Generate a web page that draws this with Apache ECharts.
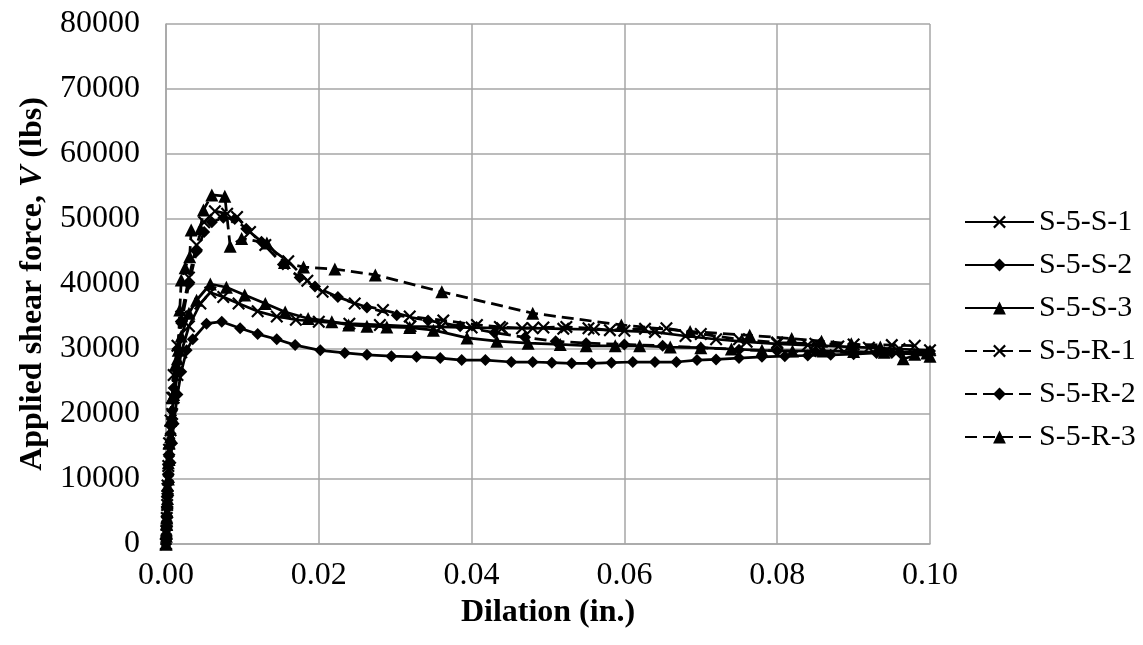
<!DOCTYPE html>
<html>
<head>
<meta charset="utf-8">
<script src="https://cdn.jsdelivr.net/npm/echarts@6/dist/echarts.min.js"></script>
<style>
  html, body { margin: 0; padding: 0; background: #fff; }
  #chart { width: 1143px; height: 645px; }
</style>
</head>
<body>
<div id="chart"></div>
<script>
// Dilation (in.) and applied shear force (lbs) for each specimen
const s1Dilation = [0, 0.00005, 0.0001, 0.00015, 0.0002, 0.0003, 0.0004, 0.0006, 0.0008, 0.001, 0.0015, 0.002, 0.003, 0.0045, 0.0058, 0.0075, 0.0095, 0.012, 0.0145, 0.017, 0.02, 0.024, 0.028, 0.032, 0.036, 0.04, 0.044, 0.048, 0.052, 0.056, 0.06, 0.064, 0.068, 0.072, 0.076, 0.08, 0.084, 0.088, 0.092, 0.096, 0.1];
const s1Force    = [0, 1500, 3500, 6000, 8500, 11500, 14500, 17500, 20000, 22500, 26000, 29500, 33500, 37000, 38700, 38000, 37000, 35800, 35000, 34500, 34200, 33900, 33700, 33500, 33400, 33300, 33200, 33200, 33100, 33000, 32800, 32600, 32000, 31500, 31100, 30800, 30600, 30400, 30200, 30000, 29800];

const s2Dilation = [0, 0.00005, 0.0001, 0.00015, 0.0002, 0.0003, 0.0004, 0.0006, 0.0008, 0.001, 0.0015, 0.002, 0.0027, 0.0035, 0.0053, 0.0073, 0.0097, 0.012, 0.0145, 0.0169, 0.0202, 0.0234, 0.0263, 0.0295, 0.0328, 0.0359, 0.0387, 0.0418, 0.0452, 0.048, 0.0505, 0.0531, 0.0557, 0.0583, 0.0611, 0.064, 0.0668, 0.0695, 0.072, 0.075, 0.078, 0.081, 0.084, 0.087, 0.09, 0.093, 0.096, 0.1];
const s2Force    = [0, 1000, 2500, 4000, 5500, 7500, 9500, 12500, 15500, 18500, 23000, 26500, 29800, 31500, 33900, 34200, 33200, 32300, 31500, 30600, 29800, 29400, 29100, 28900, 28800, 28600, 28300, 28300, 28000, 28000, 27900, 27800, 27800, 27900, 28000, 28000, 28000, 28300, 28400, 28600, 28800, 28900, 29000, 29100, 29200, 29400, 29500, 29700];

const s3Dilation = [0, 0.00005, 0.0001, 0.00015, 0.0002, 0.0003, 0.0004, 0.0006, 0.0008, 0.001, 0.0015, 0.002, 0.003, 0.004, 0.0058, 0.0079, 0.0103, 0.013, 0.0156, 0.0186, 0.0217, 0.0239, 0.0263, 0.0289, 0.0319, 0.035, 0.0394, 0.0433, 0.0474, 0.0516, 0.055, 0.0588, 0.062, 0.066, 0.07, 0.074, 0.078, 0.082, 0.086, 0.09, 0.094, 0.098, 0.1];
const s3Force    = [0, 1200, 3000, 5000, 7000, 10000, 13000, 16500, 19500, 23000, 28500, 32000, 35500, 37500, 40000, 39500, 38300, 37000, 35700, 34700, 34200, 33700, 33500, 33400, 33300, 32900, 31700, 31200, 30900, 30700, 30500, 30500, 30500, 30300, 30200, 30000, 29800, 29700, 29700, 29600, 29500, 29200, 28900];

const r1Dilation = [0, 0.00005, 0.0001, 0.00015, 0.0002, 0.0003, 0.0004, 0.0006, 0.0008, 0.001, 0.0015, 0.002, 0.003, 0.004, 0.005, 0.0064, 0.008, 0.0093, 0.011, 0.013, 0.016, 0.0185, 0.0205, 0.0247, 0.0284, 0.0319, 0.0363, 0.0407, 0.0437, 0.0466, 0.0494, 0.0524, 0.0553, 0.0581, 0.0627, 0.0655, 0.07, 0.075, 0.08, 0.085, 0.09, 0.095, 0.098];
const r1Force    = [0, 2000, 4000, 6500, 9000, 12000, 15500, 19000, 22500, 26000, 30500, 35000, 41000, 46000, 49500, 51200, 50800, 50300, 48000, 46000, 43500, 40500, 38800, 37000, 36000, 35000, 34400, 33700, 33400, 33200, 33300, 33400, 33200, 32900, 33100, 33200, 32300, 31500, 31000, 30800, 30700, 30600, 30500];

const r2Dilation = [0, 0.00005, 0.0001, 0.00015, 0.0002, 0.0003, 0.0004, 0.0006, 0.0008, 0.001, 0.0015, 0.002, 0.003, 0.004, 0.005, 0.006, 0.0075, 0.009, 0.0105, 0.0125, 0.0153, 0.0175, 0.0195, 0.0225, 0.0263, 0.0302, 0.0343, 0.0385, 0.043, 0.047, 0.051, 0.055, 0.06, 0.065, 0.07, 0.075, 0.08, 0.085, 0.09, 0.095, 0.1];
const r2Force    = [0, 1500, 3500, 5500, 7500, 10500, 13500, 17000, 20500, 24000, 30000, 34000, 40000, 45000, 48000, 49500, 50200, 50000, 48500, 46500, 43000, 41000, 39600, 38000, 36400, 35200, 34400, 33500, 32500, 31800, 31200, 30900, 30700, 30500, 30200, 29900, 29700, 29600, 29500, 29400, 29300];

const r3Dilation = [0, 0.00005, 0.0001, 0.00015, 0.0002, 0.0003, 0.0004, 0.0006, 0.0008, 0.0012, 0.0016, 0.0018, 0.002, 0.0025, 0.0031, 0.0033, 0.0045, 0.0049, 0.006, 0.0077, 0.0084, 0.0099, 0.0132, 0.0155, 0.018, 0.0221, 0.0274, 0.0361, 0.048, 0.0596, 0.0686, 0.0764, 0.0819, 0.0858, 0.0897, 0.0935, 0.0965, 0.0996];
const r3Force    = [0, 1800, 4000, 6500, 9000, 12500, 15500, 19000, 22500, 27500, 29800, 36000, 40600, 42500, 44200, 48300, 48500, 51400, 53700, 53500, 45800, 47000, 46300, 43300, 42600, 42300, 41400, 38800, 35500, 33700, 32700, 32100, 31600, 31200, 30800, 30300, 28500, 29400];

const seriesNames = ['S-5-S-1', 'S-5-S-2', 'S-5-S-3', 'S-5-R-1', 'S-5-R-2', 'S-5-R-3'];
const xTicks = [0, 0.02, 0.04, 0.06, 0.08, 0.1];
const yTicks = [0, 10000, 20000, 30000, 40000, 50000, 60000, 70000, 80000];

const pairs = (xs, ys) => xs.map((x, i) => [x, ys[i]]);

const crossPath = 'path://M0,1.2L1.2,0L5,3.8L8.8,0L10,1.2L6.2,5L10,8.8L8.8,10L5,6.2L1.2,10L0,8.8L3.8,5Z';
const serif = '"Liberation Serif", "DejaVu Serif", serif';
const FS = 32;

function makeSeries(name, data, symbol, symbolSize, dashed) {
  return {
    name: name,
    type: 'line',
    data: data,
    symbol: symbol,
    symbolSize: symbolSize,
    showAllSymbol: true,
    smooth: false,
    animation: false,
    itemStyle: { color: '#000', borderColor: '#000', borderWidth: 0 },
    lineStyle: {
      color: '#000',
      width: 2.75,
      type: dashed ? [12, 6] : 'solid'
    },
    emphasis: { disabled: true }
  };
}

const chart = echarts.init(document.getElementById('chart'));
chart.setOption({
  backgroundColor: '#fff',
  animation: false,
  textStyle: { fontFamily: serif },
  grid: { left: 166, right: 213, top: 24, bottom: 101, containLabel: false },
  legend: {
    orient: 'vertical',
    left: 959,
    top: 202,
    itemWidth: 69,
    itemHeight: 16,
    itemGap: 13,
    textStyle: { fontFamily: serif, fontSize: 30, color: '#000' },
    data: seriesNames
  },
  xAxis: {
    type: 'value',
    min: 0,
    max: 0.1,
    interval: 0.02,
    name: 'Dilation (in.)',
    nameLocation: 'middle',
    nameGap: 48,
    nameTextStyle: { fontFamily: serif, fontSize: FS, fontWeight: 'bold', color: '#000' },
    axisLine: { show: true, lineStyle: { color: '#a6a6a6', width: 1.5 } },
    axisTick: { show: false },
    splitLine: { show: true, lineStyle: { color: '#a6a6a6', width: 1.5 } },
    axisLabel: {
      fontFamily: serif, fontSize: FS, color: '#000', margin: 16,
      formatter: v => {
        const t = xTicks.find(k => Math.abs(k - v) < 1e-9);
        return t === undefined ? '' : t.toFixed(2);
      }
    }
  },
  yAxis: {
    type: 'value',
    min: 0,
    max: 80000,
    interval: 10000,
    name: '{b|Applied shear force, }{i|V}{b| (lbs)}',
    nameLocation: 'middle',
    nameRotate: 90,
    nameGap: 112,
    nameTextStyle: {
      rich: {
        b: { fontFamily: serif, fontSize: FS, fontWeight: 'bold', color: '#000' },
        i: { fontFamily: serif, fontSize: FS, fontWeight: 'bold', fontStyle: 'italic', color: '#000' }
      }
    },
    axisLine: { show: true, lineStyle: { color: '#a6a6a6', width: 1.5 } },
    axisTick: { show: false },
    splitLine: { show: true, lineStyle: { color: '#a6a6a6', width: 1.5 } },
    axisLabel: {
      fontFamily: serif, fontSize: FS, color: '#000', margin: 26,
      formatter: v => (yTicks.indexOf(v) >= 0 ? String(v) : '')
    }
  },
  series: [
    makeSeries(seriesNames[0], pairs(s1Dilation, s1Force), crossPath, 13, false),
    makeSeries(seriesNames[1], pairs(s2Dilation, s2Force), 'diamond', 12, false),
    makeSeries(seriesNames[2], pairs(s3Dilation, s3Force), 'triangle', 13, false),
    makeSeries(seriesNames[3], pairs(r1Dilation, r1Force), crossPath, 13, true),
    makeSeries(seriesNames[4], pairs(r2Dilation, r2Force), 'diamond', 12, true),
    makeSeries(seriesNames[5], pairs(r3Dilation, r3Force), 'triangle', 13, true)
  ]
});
</script>
</body>
</html>
